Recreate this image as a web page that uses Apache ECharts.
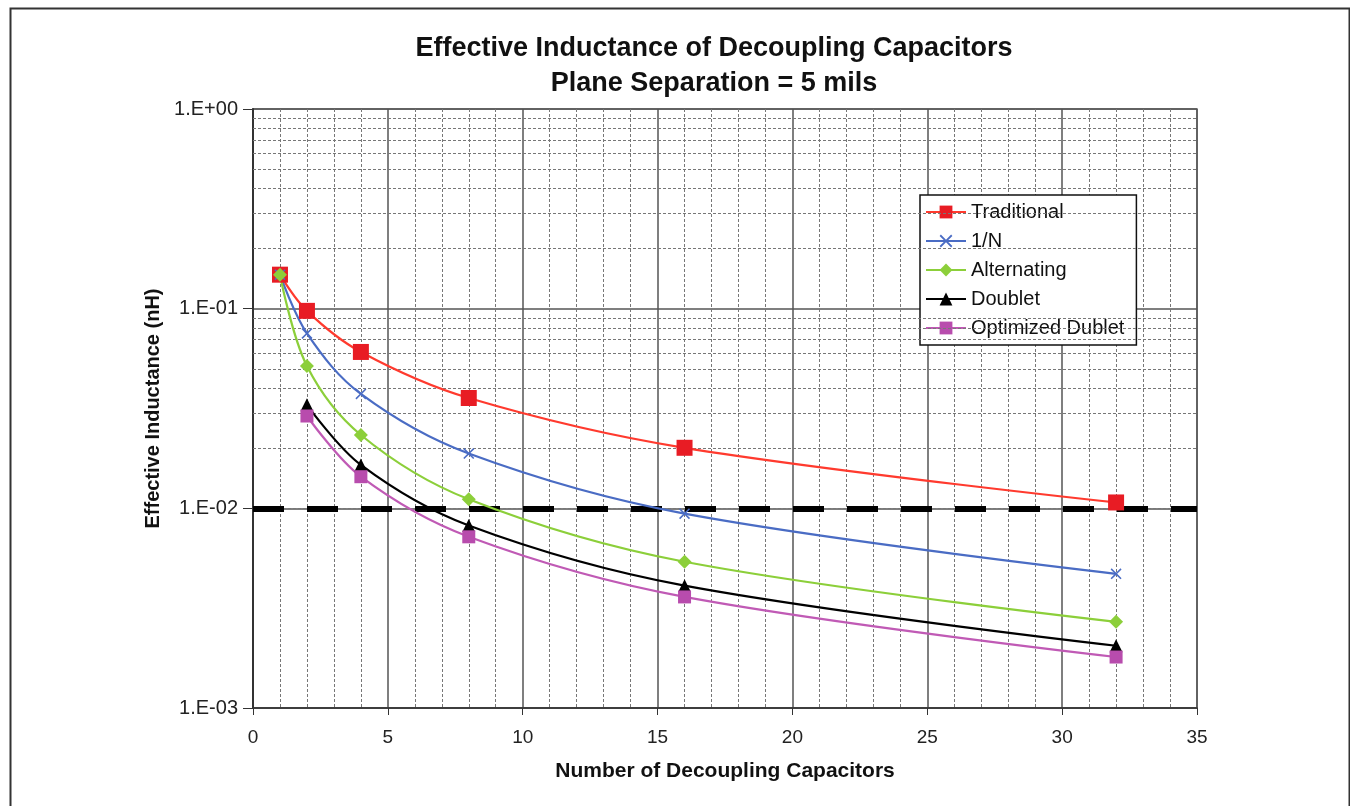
<!DOCTYPE html>
<html>
<head>
<meta charset="utf-8">
<title>Effective Inductance of Decoupling Capacitors</title>
<script src="https://cdn.jsdelivr.net/npm/echarts@6/dist/echarts.min.js"></script>
<style>
  html, body { margin: 0; padding: 0; background: #fff; }
  #chart { width: 1350px; height: 806px; }
</style>
</head>
<body>
<div id="chart"></div>
<script>
// number of caps and inductance values (nH)
const xTraditional = [1, 2, 4, 8, 16, 32]
const traditional = [0.148, 0.0975, 0.0607, 0.0357, 0.0201, 0.0107]
const xOneOverN = [1, 2, 4, 8, 16, 32]
const oneOverN = [0.148, 0.0752, 0.0374, 0.0188, 0.0094, 0.0047]
const xAlternating = [1, 2, 4, 8, 16, 32]
const alternating = [0.148, 0.0516, 0.0233, 0.0111, 0.0054, 0.0027]
const xDoublet = [2, 4, 8, 16, 32]
const doublet = [0.033, 0.0165, 0.0082, 0.0041, 0.00205]
const xOptimized = [2, 4, 8, 16, 32]
const optimized = [0.029, 0.0144, 0.0072, 0.0036, 0.0018]

const targetLevel = 0.01
const seriesNames = ['Traditional', '1/N', 'Alternating', 'Doublet', 'Optimized Dublet']
const decades = [0.001, 0.01, 0.1]
const minorMultipliers = [2, 3, 4, 5, 6, 7, 8, 9]

const FONT = '"Liberation Sans", Arial, sans-serif'

const pairs = (xs, ys) => xs.map((x, i) => [x, ys[i]])

// log minor gridlines (2..9 x decade)
const minorLines = []
decades.forEach(d => minorMultipliers.forEach(m => minorLines.push({ yAxis: +(d * m).toPrecision(3) })))

const xShape = 'path://M0,1L1,0L5,4L9,0L10,1L6,5L10,9L9,10L5,6L1,10L0,9L4,5Z'

const chart = echarts.init(document.getElementById('chart'))

function lineSeries(name, data, color, symbol, size, lineColor) {
  return {
    name: name,
    type: 'line',
    data: data,
    smooth: 0.35,
    symbol: symbol,
    symbolSize: size,
    showAllSymbol: true,
    z: 5,
    lineStyle: { color: lineColor || color, width: 2.2 },
    itemStyle: { color: color },
    emphasis: { disabled: true }
  }
}

const option = {
  animation: false,
  backgroundColor: '#fff',
  graphic: [{
    type: 'rect',
    left: 8, top: 6,
    shape: { width: 1339, height: 820 },
    style: { fill: 'none', stroke: '#333', lineWidth: 2 },
    silent: true
  }],
  title: {
    text: 'Effective Inductance of Decoupling Capacitors\nPlane Separation = 5 mils',
    left: 709,
    top: 26,
    textAlign: 'center',
    textStyle: { fontFamily: FONT, fontSize: 27, fontWeight: 'bold', color: '#111', lineHeight: 35 }
  },
  grid: { left: 253, right: 153, top: 109, bottom: 98, show: true, borderColor: '#666', borderWidth: 1.5 },
  legend: {
    orient: 'vertical',
    left: 920,
    top: 195,
    data: seriesNames,
    itemWidth: 40,
    itemHeight: 16,
    itemGap: 9,
    padding: [7, 12, 7, 5],
    backgroundColor: '#fff',
    borderColor: '#111',
    borderWidth: 1.5,
    borderRadius: 0,
    textStyle: { fontFamily: FONT, fontSize: 20, color: '#111' }
  },
  xAxis: {
    type: 'value',
    min: 0, max: 35, interval: 5,
    name: 'Number of Decoupling Capacitors',
    nameLocation: 'middle',
    nameGap: 53,
    nameTextStyle: { fontFamily: FONT, fontSize: 21, fontWeight: 'bold', color: '#111' },
    axisLine: { show: true, lineStyle: { color: '#333', width: 1.5 } },
    axisTick: { show: true, length: 7, lineStyle: { color: '#333' } },
    axisLabel: { fontFamily: FONT, fontSize: 19, color: '#222', margin: 20 },
    splitLine: { show: true, lineStyle: { color: '#555', width: 1.5 } },
    minorTick: { show: false, splitNumber: 5 },
    minorSplitLine: { show: true, lineStyle: { color: '#777', width: 1, type: [3, 2] } }
  },
  yAxis: {
    type: 'log',
    logBase: 10,
    min: 0.001, max: 1,
    name: 'Effective Inductance (nH)',
    nameLocation: 'middle',
    nameGap: 88,
    nameTextStyle: { fontFamily: FONT, fontSize: 20, fontWeight: 'bold', color: '#111' },
    axisLine: { show: true, lineStyle: { color: '#333', width: 2 } },
    axisTick: { show: true, length: 10, lineStyle: { color: '#333' } },
    axisLabel: {
      fontFamily: FONT, fontSize: 20, color: '#222', margin: 15,
      formatter: v => {
        const e = Math.round(Math.log10(v))
        return '1.E' + (e < 0 ? '-' : '+') + String(Math.abs(e)).padStart(2, '0')
      }
    },
    splitLine: { show: true, lineStyle: { color: '#555', width: 1.5 } }
  },
  series: [
    {
      name: 'grid-minor',
      type: 'line',
      data: [],
      z: 1,
      silent: true,
      markLine: {
        silent: true,
        symbol: ['none', 'none'],
        label: { show: false },
        lineStyle: { color: '#777', width: 1, type: [3, 2] },
        emphasis: { disabled: true },
        data: minorLines
      }
    },
    {
      name: 'target',
      type: 'line',
      data: [],
      z: 4,
      silent: true,
      markLine: {
        silent: true,
        symbol: ['none', 'none'],
        label: { show: false },
        lineStyle: { color: '#000', width: 6, type: [31, 23] },
        emphasis: { disabled: true },
        data: [{ yAxis: targetLevel }]
      }
    },
    lineSeries('Traditional', pairs(xTraditional, traditional), '#e81c24', 'rect', 16, '#ff3a2e'),
    lineSeries('1/N', pairs(xOneOverN, oneOverN), '#4a6cc4', xShape, 11),
    lineSeries('Alternating', pairs(xAlternating, alternating), '#8ccf3a', 'diamond', 14),
    lineSeries('Doublet', pairs(xDoublet, doublet), '#000', 'triangle', 13),
    lineSeries('Optimized Dublet', pairs(xOptimized, optimized), '#b84cad', 'rect', 13, '#c05ab5')
  ]
}

chart.setOption(option)
</script>
</body>
</html>
